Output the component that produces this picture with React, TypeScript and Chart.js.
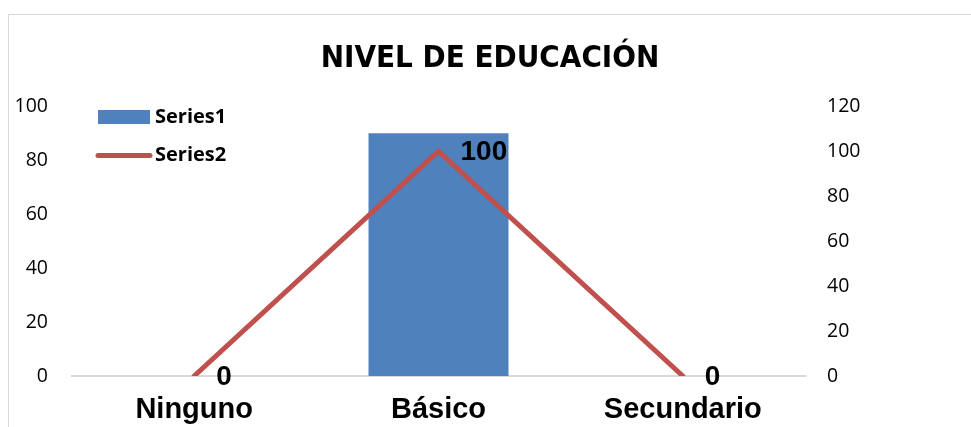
import React, { useEffect, useRef } from "react";
import { Chart, registerables } from "chart.js";

Chart.register(...registerables);

const categories = ["Ninguno", "Básico", "Secundario"];
const series1Label = "Series1";
const series2Label = "Series2";
const series1Values = [0, 90, 0];
const series2Values = [0, 100, 0];
const leftAxisMax = 100;
const rightAxisMax = 120;
const tickStep = 20;
const titleText = "NIVEL DE EDUCACIÓN";

const BAR_COLOR = "#4f81bd";
const LINE_COLOR = "#c0504d";

const legendPlugin = {
  id: "insideLegend",
  afterDraw(chart: any) {
    const ctx = chart.ctx;
    const ds = chart.data.datasets;
    ctx.save();
    ctx.font = 'bold 20px "Open Sans", sans-serif';
    ctx.textBaseline = "middle";
    ctx.textAlign = "left";
    // Series1 (bar)
    ctx.fillStyle = ds[0].backgroundColor;
    ctx.fillRect(89, 95, 52, 14);
    ctx.fillStyle = "#000";
    ctx.fillText(ds[0].label, 146, 102);
    // Series2 (line)
    ctx.strokeStyle = ds[1].borderColor;
    ctx.lineWidth = 5;
    ctx.lineCap = "round";
    ctx.beginPath();
    ctx.moveTo(89, 140.5);
    ctx.lineTo(141, 140.5);
    ctx.stroke();
    ctx.fillText(ds[1].label, 146, 140.5);
    ctx.restore();
  },
};

const labelPlugin = {
  id: "lineLabels",
  afterDatasetsDraw(chart: any) {
    const ctx = chart.ctx;
    const idx = chart.data.datasets.findIndex((d: any) => d.type === "line");
    const meta = chart.getDatasetMeta(idx);
    const values = chart.data.datasets[idx].data;
    ctx.save();
    ctx.font = 'bold 28px "Liberation Sans", Arial, sans-serif';
    ctx.fillStyle = "#000";
    ctx.textAlign = "left";
    ctx.textBaseline = "middle";
    meta.data.forEach((pt: any, i: number) => {
      ctx.fillText(String(values[i]), pt.x + 22, pt.y + 1);
    });
    ctx.restore();
  },
};

export default function App() {
  const ref = useRef<HTMLCanvasElement | null>(null);

  useEffect(() => {
    if (!ref.current) return;
    const tickFont = { family: '"Open Sans", sans-serif', size: 19.5 };
    const chart = new Chart(ref.current, {
      type: "bar",
      data: {
        labels: categories,
        datasets: [
          {
            type: "bar",
            label: series1Label,
            data: series1Values,
            backgroundColor: BAR_COLOR,
            yAxisID: "y",
            barPercentage: 0.573,
            categoryPercentage: 1,
            order: 2,
          } as any,
          {
            type: "line",
            label: series2Label,
            data: series2Values,
            borderColor: LINE_COLOR,
            backgroundColor: LINE_COLOR,
            borderWidth: 5,
            borderCapStyle: "round",
            pointRadius: 0,
            pointHoverRadius: 0,
            tension: 0,
            yAxisID: "y1",
            order: 1,
          } as any,
        ],
      },
      options: {
        responsive: false,
        maintainAspectRatio: false,
        animation: false,
        layout: { padding: 0 },
        plugins: {
          legend: { display: false },
          tooltip: { enabled: false },
          title: {
            display: true,
            text: titleText,
            color: "#000",
            font: {
              family: '"Liberation Sans Narrow", "DejaVu Sans Condensed", sans-serif',
              size: 31,
              weight: "bold",
            },
            padding: { top: 25, bottom: 29 },
          },
        },
        scales: {
          x: {
            grid: { display: false, drawTicks: false },
            border: { display: true, color: "#d9d9d9", width: 2 },
            ticks: {
              color: "#000",
              padding: 17,
              font: { family: '"Liberation Sans", Arial, sans-serif', size: 29, weight: "bold" },
            },
            afterFit: (s: any) => {
              s.height = 51;
            },
          },
          y: {
            position: "left",
            min: 0,
            max: leftAxisMax,
            grid: { display: false, drawTicks: false },
            border: { display: false },
            ticks: { stepSize: tickStep, color: "#000", padding: 24, font: tickFont },
            afterFit: (s: any) => {
              s.width = 63;
            },
          },
          y1: {
            position: "right",
            min: 0,
            max: rightAxisMax,
            grid: { display: false, drawTicks: false },
            border: { display: false },
            ticks: { stepSize: tickStep, color: "#000", padding: 22, font: tickFont },
            afterFit: (s: any) => {
              s.width = 166;
            },
          },
        },
      } as any,
      plugins: [labelPlugin, legendPlugin],
    });
    return () => chart.destroy();
  }, []);

  return (
    <div
      style={{
        position: "fixed",
        left: 8,
        top: 14,
        width: 963,
        height: 413,
        borderLeft: "1px solid #d9d9d9",
        borderTop: "1px solid #d9d9d9",
        background: "#fff",
      }}
    >
      <canvas ref={ref} width={962} height={412} style={{ display: "block" }} />
    </div>
  );
}
